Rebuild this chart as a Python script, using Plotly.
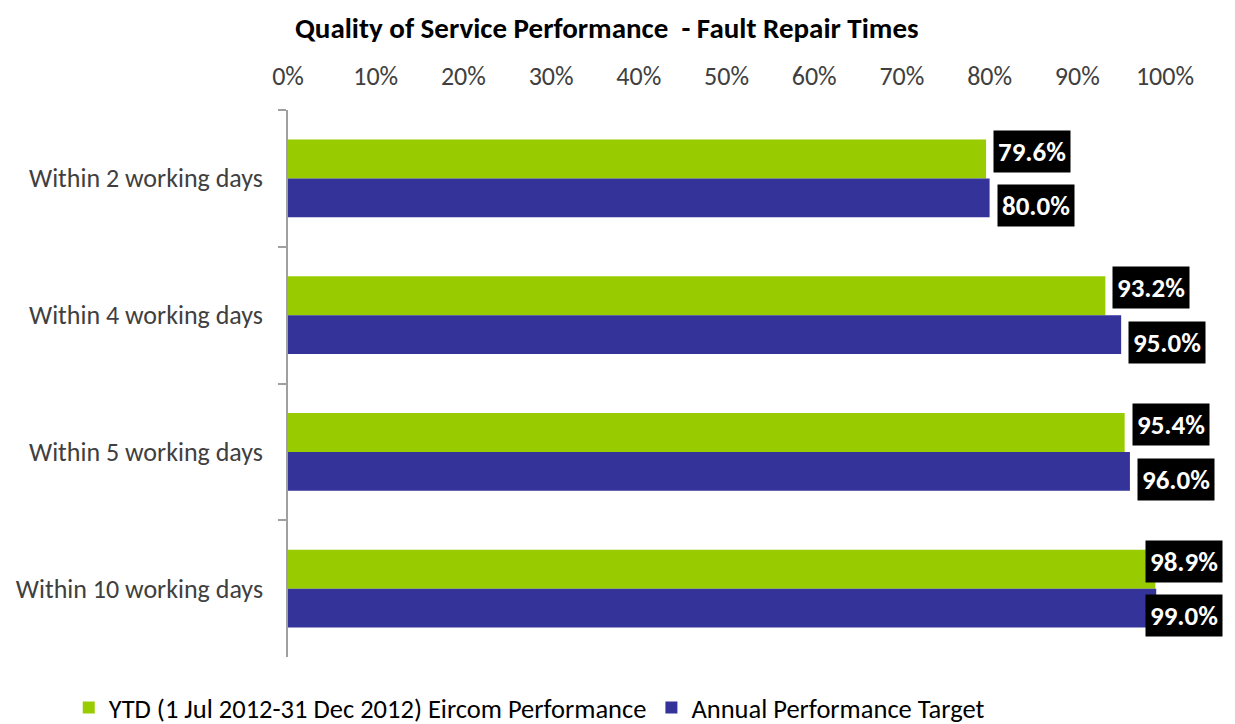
import plotly.graph_objects as go

categories = ["Within 2 working days", "Within 4 working days", "Within 5 working days", "Within 10 working days"]
ytd_perf = [0.796, 0.932, 0.954, 0.989]
target = [0.800, 0.950, 0.960, 0.990]
series_names = ["YTD (1 Jul 2012-31 Dec 2012) Eircom Performance", "Annual Performance Target"]
colors = ["#99CC00", "#333399"]
xticks = [i / 10 for i in range(11)]

FONT = "Carlito, Lato, 'Liberation Sans', Arial, sans-serif"

fig = go.Figure()
for name, vals, c in zip(series_names, [ytd_perf, target], colors):
    fig.add_trace(go.Bar(y=categories, x=vals, orientation="h", name=name,
                         marker=dict(color=c, line=dict(width=0)), hoverinfo="x+y"))

# page body has an 8px margin, so the figure is 8px smaller and margins are offset
W, H = 1227, 716
ml, mr, mt, mb = 280, 70, 102, 67
pw = W - ml - mr
label_right_limit = 1215
label_w = 83

# data labels
for ti, vals in enumerate([ytd_perf, target]):
    for ci, v in enumerate(vals):
        end_px = ml + v * pw
        if end_px + 7 + label_w > label_right_limit:
            anchor, shift = "right", label_right_limit - end_px
        else:
            anchor, shift = "left", 7
        fig.add_annotation(x=v, y=ci + (-0.2 if ti == 0 else 0.2), xref="x", yref="y",
                           text="<b>%.1f%%</b>" % (v * 100), showarrow=False,
                           xanchor=anchor, xshift=shift,
                           font=dict(family=FONT, size=27, color="white"),
                           bgcolor="black", borderpad=4)

fig.update_layout(
    width=W, height=H,
    margin=dict(l=ml, r=mr, t=mt, b=mb, autoexpand=False),
    paper_bgcolor="white", plot_bgcolor="white",
    barmode="group", bargap=0.43, bargroupgap=0,
    font=dict(family=FONT, size=26, color="#404040"),
    title=dict(text="<b>Quality of Service Performance  - Fault Repair Times</b>",
               x=0.488, xanchor="center", y=0.972, yanchor="middle",
               font=dict(family=FONT, size=29, color="black")),
    showlegend=True,
    legend=dict(orientation="h", x=-0.25, y=-0.093, xanchor="left", yanchor="middle",
                font=dict(family=FONT, size=26.5, color="black"), traceorder="normal"),
    xaxis=dict(side="top", range=[0, 1], tickvals=xticks, tickformat=".0%",
               showgrid=False, zeroline=False, showline=False, automargin=False,
               ticks="outside", ticklen=14, tickcolor="rgba(0,0,0,0)",
               tickfont=dict(family=FONT, size=26, color="#404040"), fixedrange=True),
    yaxis=dict(autorange="reversed", showline=True, linecolor="#A0A0A0", linewidth=1.5,
               ticks="outside", tickson="boundaries", ticklen=8, tickcolor="#A0A0A0",
               tickwidth=1.5, showgrid=False, automargin=False, ticklabelstandoff=18,
               tickfont=dict(family=FONT, size=26, color="#404040"), fixedrange=True),
)

fig.write_html("out.html")
